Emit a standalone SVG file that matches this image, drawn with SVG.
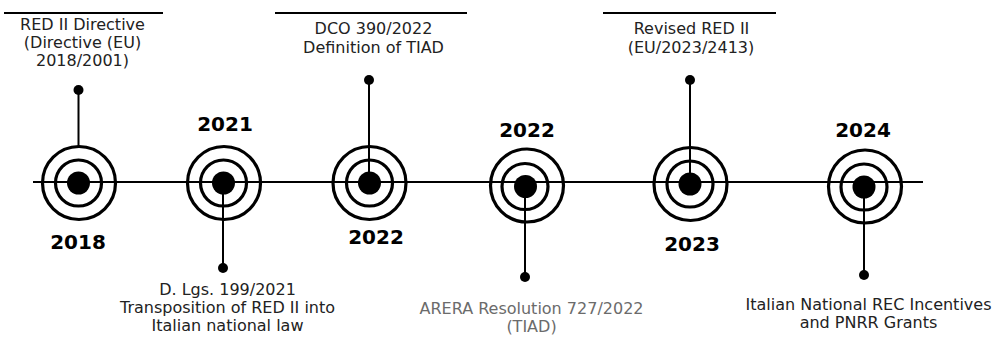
<svg xmlns="http://www.w3.org/2000/svg" width="997" height="338" viewBox="0 0 997 338">
  <style>
    .ring { fill: none; stroke: #000; stroke-width: 3.2; }
    .dot { fill: #000; }
    .stem { stroke: #000; stroke-width: 2; fill: none; }
    .rule { stroke: #000; stroke-width: 2; }
    .axis { stroke: #000; stroke-width: 2; }
    .year { font-family: "DejaVu Sans", Verdana, sans-serif; font-weight: bold; font-size: 20px; fill: #000; text-anchor: middle; }
    .lbl { font-family: "DejaVu Sans", Verdana, sans-serif; font-size: 16px; fill: #222; text-anchor: middle; }
    .lbl.grey { fill: #6b6b6b; }
  </style>

  <g id="axis">
    <line class="axis" x1="33" y1="182" x2="923" y2="182"/>
  </g>

  <g id="connectors">
    <line class="stem" x1="78.5" y1="90" x2="78.5" y2="147"/>
    <circle class="dot" cx="78.5" cy="90" r="5"/>
    <line class="stem" x1="223" y1="183" x2="223" y2="268"/>
    <circle class="dot" cx="223" cy="268" r="5"/>
    <line class="stem" x1="369" y1="80" x2="369" y2="183"/>
    <circle class="dot" cx="369" cy="80" r="5"/>
    <line class="stem" x1="525" y1="187" x2="525" y2="277"/>
    <circle class="dot" cx="525" cy="277" r="5"/>
    <line class="stem" x1="690" y1="80" x2="690" y2="184"/>
    <circle class="dot" cx="690" cy="80" r="5"/>
    <line class="stem" x1="864" y1="187" x2="864" y2="275"/>
    <circle class="dot" cx="864" cy="275" r="5"/>
  </g>

  <g id="node-2018">
    <circle class="ring" cx="79" cy="183" r="36.5"/>
    <circle class="ring" cx="78.5" cy="183" r="23"/>
    <circle class="dot" cx="78.5" cy="183" r="11.5"/>
    <text class="year" x="78" y="249">2018</text>
    <line class="rule" x1="4" y1="13" x2="163" y2="13"/>
    <text class="lbl" x="82.5" y="30">RED II Directive</text>
    <text class="lbl" x="82.5" y="48">(Directive (EU)</text>
    <text class="lbl" x="82.5" y="66">2018/2001)</text>
  </g>

  <g id="node-2021">
    <circle class="ring" cx="224" cy="183" r="36.5"/>
    <circle class="ring" cx="223.5" cy="183" r="23"/>
    <circle class="dot" cx="223.5" cy="183" r="11.5"/>
    <text class="year" x="225" y="131">2021</text>
    <text class="lbl" x="227.5" y="295">D. Lgs. 199/2021</text>
    <text class="lbl" x="227.5" y="313">Transposition of RED II into</text>
    <text class="lbl" x="227.5" y="331">Italian national law</text>
  </g>

  <g id="node-2022a">
    <circle class="ring" cx="369.5" cy="183" r="36.5"/>
    <circle class="ring" cx="369.5" cy="183" r="23"/>
    <circle class="dot" cx="369.5" cy="183" r="11.5"/>
    <text class="year" x="376" y="244">2022</text>
    <line class="rule" x1="275" y1="13" x2="467" y2="13"/>
    <text class="lbl" x="373.5" y="34">DCO 390/2022</text>
    <text class="lbl" x="373.5" y="52.5">Definition of TIAD</text>
  </g>

  <g id="node-2022b">
    <circle class="ring" cx="527" cy="185.5" r="36.5"/>
    <circle class="ring" cx="525" cy="186.5" r="23"/>
    <circle class="dot" cx="525.5" cy="186.5" r="11.5"/>
    <text class="year" x="527" y="137">2022</text>
    <text class="lbl grey" x="531.5" y="314">ARERA Resolution 727/2022</text>
    <text class="lbl grey" x="531.5" y="332">(TIAD)</text>
  </g>

  <g id="node-2023">
    <circle class="ring" cx="690.5" cy="184" r="36.5"/>
    <circle class="ring" cx="690" cy="184" r="23"/>
    <circle class="dot" cx="690" cy="184" r="11.5"/>
    <text class="year" x="692" y="251">2023</text>
    <line class="rule" x1="603" y1="13" x2="776" y2="13"/>
    <text class="lbl" x="691.5" y="34">Revised RED II</text>
    <text class="lbl" x="691" y="52.5">(EU/2023/2413)</text>
  </g>

  <g id="node-2024">
    <circle class="ring" cx="865" cy="186.5" r="36.5"/>
    <circle class="ring" cx="864" cy="187" r="23"/>
    <circle class="dot" cx="864" cy="187" r="11.5"/>
    <text class="year" x="863" y="137">2024</text>
    <text class="lbl" x="868.5" y="310">Italian National REC Incentives</text>
    <text class="lbl" x="868.5" y="328">and PNRR Grants</text>
  </g>
</svg>
